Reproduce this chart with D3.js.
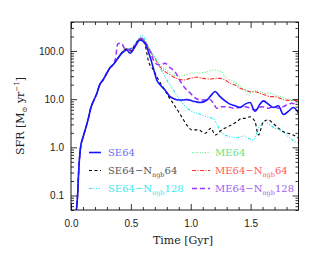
<!DOCTYPE html>
<html>
<head>
<meta charset="utf-8">
<script src="https://cdn.jsdelivr.net/npm/d3@7"></script>
<style>
body { margin: 0; background: #fff; }
svg { display: block; }
.axis path { display: none; }
.axis line { stroke: #000; stroke-width: 0.8; }
</style>
</head>
<body>
<script>
// shared early rise (all runs agree here)
const tRise = [0.04, 0.055, 0.065, 0.08, 0.10, 0.125, 0.145, 0.165, 0.195, 0.215, 0.24, 0.267, 0.30, 0.326, 0.355];
const sfrRise = [0.04, 0.1, 0.35, 1.0, 1.6, 2.6, 4.0, 6.5, 10, 13, 20, 25, 35, 45, 53];

const tSE64 = [0.382,0.424,0.465,0.493,0.535,0.576,0.618,0.66,0.688,0.716,0.744,0.785,0.827,0.86,0.894,0.936,0.97,1.011,1.045,1.078,1.136,1.17,1.203,1.245,1.287,1.328,1.37,1.412,1.454,1.495,1.537,1.579,1.607,1.648,1.69,1.732,1.774,1.815,1.857,1.899];
const sfrSE64 = [65,89,105,90,123,169,144,76,44,25,20,15.5,11.3,10.2,9.6,9.6,9.8,9.2,8.8,8.5,9.6,12,14.4,11.3,9.2,7.9,7.3,6.7,7.9,8.5,5.6,7.9,9.2,7.9,6.7,7.3,4.8,5.6,6.7,5.2];

const tSE64n64 = [0.382,0.424,0.465,0.50,0.535,0.58,0.60,0.625,0.648,0.69,0.732,0.774,0.815,0.857,0.898,0.94,0.968,1.01,1.065,1.12,1.17,1.203,1.259,1.314,1.384,1.426,1.454,1.495,1.537,1.565,1.607,1.648,1.69,1.732,1.774,1.815,1.857,1.899];
const sfrSE64n64 = [66,92,110,100,135,180,170,115,60,40,25,16.8,11.3,7.9,5.5,3.7,2.9,2.3,2.3,1.96,2.5,1.8,2.3,2.7,3.4,4.0,4.0,4.3,3.4,1.8,3.4,3.7,3.1,2.5,2.1,1.96,1.8,1.55];

const tSE64n128 = [0.382,0.424,0.465,0.50,0.535,0.593,0.62,0.66,0.702,0.744,0.80,0.855,0.911,0.967,1.022,1.078,1.134,1.189,1.217,1.245,1.287,1.328,1.384,1.439,1.481,1.523,1.551,1.579,1.621,1.663,1.704,1.746,1.788,1.83,1.871,1.899];
const sfrSE64n128 = [68,95,115,110,140,210,170,100,72,45,25,15.5,9.6,6.6,5.4,4.9,4.3,3.9,3.1,2.2,1.8,1.67,1.58,1.72,1.55,1.43,1.96,2.9,3.4,2.9,2.5,2.3,1.96,1.55,1.31,1.22];

const tME64 = [0.382,0.424,0.465,0.50,0.535,0.59,0.62,0.66,0.70,0.744,0.80,0.855,0.911,0.967,1.022,1.078,1.134,1.189,1.259,1.287,1.328,1.384,1.412,1.454,1.481,1.51,1.537,1.579,1.621,1.663,1.704,1.746,1.788,1.844,1.899];
const sfrME64 = [67,93,112,108,138,190,160,110,75,51,40,32,30,32,35,35,37,40,37,29,25,21,18,15.5,12,14.3,15,14.3,13.2,13.2,12.2,11.3,10.4,9.6,9.0];

const tME64n64 = [0.382,0.424,0.465,0.50,0.535,0.585,0.62,0.66,0.70,0.744,0.827,0.883,0.938,0.994,1.05,1.106,1.161,1.203,1.245,1.287,1.328,1.37,1.412,1.454,1.495,1.537,1.579,1.621,1.663,1.704,1.746,1.788,1.844,1.899];
const sfrME64n64 = [66,92,110,104,136,185,150,100,70,47,32,27,25,27,28.5,27,26,27,27,25,21.4,19.7,16.8,15.5,14.3,14.3,13.2,12.2,11.3,11.3,10.4,9.6,9.4,9.6];

const tME64n128 = [0.372,0.39,0.42,0.45,0.475,0.535,0.585,0.62,0.66,0.702,0.744,0.785,0.827,0.869,0.911,0.952,0.994,1.036,1.078,1.12,1.161,1.189,1.217,1.259,1.303,1.356,1.412,1.454,1.495,1.537,1.593,1.649,1.69,1.732,1.774,1.803,1.844,1.885];
const sfrME64n128 = [70,140,145,110,105,132,185,150,100,56,51,55.6,45,37,24,17,13.5,10.6,9.6,9.6,9.9,8.2,6.5,7.0,7.0,6.5,6.8,7.0,6.5,6.0,7.0,6.5,7.0,6.5,7.0,7.6,8.2,7.6];

const xMajor = [0.0, 0.5, 1.0, 1.5];
const xMinor = [0.1,0.2,0.3,0.4,0.6,0.7,0.8,0.9,1.1,1.2,1.3,1.4,1.6,1.7,1.8];
const yMajor = [0.1, 1, 10, 100];
const yMinor = [0.05,0.06,0.07,0.08,0.09,0.2,0.3,0.4,0.5,0.6,0.7,0.8,0.9,2,3,4,5,6,7,8,9,20,30,40,50,60,70,80,90,200,300,400];

const serif = "DejaVu Serif";
const width = 320, height = 256;
const svg = d3.select("body").append("svg").attr("width", width).attr("height", height);

const x = d3.scaleLinear().domain([0, 1.9]).range([71, 298.5]);
const y = d3.scaleLog().domain([0.05, 400]).range([210, 22]);

const series = [
  {name: "ME64", t: tME64, v: sfrME64, color: "#55f07a", dash: "1,1.6", w: 1.1, text: "#5ee882", col: 1, row: 0},
  {name: "ME64n64", t: tME64n64, v: sfrME64n64, color: "#ff2a2a", dash: "4,1.5,1,1.5", w: 1.1, text: "#ff5a5a", col: 1, row: 1},
  {name: "SE64n128", t: tSE64n128, v: sfrSE64n128, color: "#19e6ee", dash: "3,1.5,1,1.5,1,1.5,1,1.5", w: 1.1, text: "#3ae8f0", col: 0, row: 2},
  {name: "SE64n64", t: tSE64n64, v: sfrSE64n64, color: "#000", dash: "3,2.5", w: 1.1, text: "#555", col: 0, row: 1},
  {name: "ME64n128", t: tME64n128, v: sfrME64n128, color: "#9a33ff", dash: "5,3", w: 1.5, text: "#a060f0", col: 1, row: 2},
  {name: "SE64", t: tSE64, v: sfrSE64, color: "#1515ff", dash: null, w: 1.6, text: "#6a6af5", col: 0, row: 0}
];

// clip
svg.append("clipPath").attr("id", "plotclip").append("rect")
  .attr("x", 71).attr("y", 22).attr("width", 227.5).attr("height", 188);

const line = d3.line().curve(d3.curveMonotoneX)
  .x(d => x(d[0])).y(d => y(d[1]));

const g = svg.append("g").attr("clip-path", "url(#plotclip)");
series.forEach(function(s) {
  const pts = tRise.map((t, i) => [t, sfrRise[i]]).concat(s.t.map((t, i) => [t, s.v[i]]));
  g.append("path").attr("d", line(pts))
    .attr("fill", "none").attr("stroke", s.color).attr("stroke-width", s.w)
    .attr("stroke-dasharray", s.dash);
});

//-----------------------------AXES------------------------------//
const fmt = d3.format(".1f");
function axisG(tr) {
  return svg.append("g").attr("class", "axis").attr("transform", tr)
    .attr("font-family", serif).attr("font-size", 10.5);
}
axisG("translate(0,210)").call(d3.axisBottom(x).tickValues(xMajor).tickSize(-6).tickPadding(10).tickFormat(fmt));
axisG("translate(0,210)").call(d3.axisBottom(x).tickValues(xMinor).tickSize(-3).tickFormat(""));
axisG("translate(0,22)").call(d3.axisTop(x).tickValues(xMajor).tickSize(-6).tickFormat(""));
axisG("translate(0,22)").call(d3.axisTop(x).tickValues(xMinor).tickSize(-3).tickFormat(""));
axisG("translate(71,0)").call(d3.axisLeft(y).tickValues(yMajor).tickSize(-6).tickPadding(7).tickFormat(fmt));
axisG("translate(71,0)").call(d3.axisLeft(y).tickValues(yMinor).tickSize(-3).tickFormat(""));
axisG("translate(298.5,0)").call(d3.axisRight(y).tickValues(yMajor).tickSize(-6).tickFormat(""));
axisG("translate(298.5,0)").call(d3.axisRight(y).tickValues(yMinor).tickSize(-3).tickFormat(""));
svg.selectAll(".axis text").attr("fill", "#222");

svg.append("rect").attr("x", 71).attr("y", 22).attr("width", 227.5).attr("height", 188)
  .attr("fill", "none").attr("stroke", "#000").attr("stroke-width", 0.9);

// titles
svg.append("text").attr("font-family", serif).attr("x", 183).attr("y", 244).attr("fill", "#222")
  .attr("text-anchor", "middle").attr("font-size", 11).text("Time [Gyr]");

const yl = svg.append("text").attr("font-family", serif).attr("font-size", 11).attr("fill", "#222")
  .attr("text-anchor", "middle").attr("transform", "translate(24,116) rotate(-90)");
yl.append("tspan").text("SFR [M");
yl.append("tspan").attr("dy", 3).attr("font-size", 7).text("⊙");
yl.append("tspan").attr("dy", -3).text(" yr");
yl.append("tspan").attr("dy", -5).attr("font-size", 7).text("−1");
yl.append("tspan").attr("dy", 5).text("]");

//-----------------------------LEGEND------------------------------//
const legendLabels = {
  SE64: ["SE64", null, null], SE64n64: ["SE64−N", "ngb", "64"], SE64n128: ["SE64−N", "ngb", "128"],
  ME64: ["ME64", null, null], ME64n64: ["ME64−N", "ngb", "64"], ME64n128: ["ME64−N", "ngb", "128"]
};
const colX = [[89, 101, 108], [192, 210, 215]];
const rowY = [152.5, 170.5, 188.5];
series.forEach(function(s) {
  const cx = colX[s.col], ry = rowY[s.row];
  svg.append("line").attr("x1", cx[0]).attr("x2", cx[1]).attr("y1", ry).attr("y2", ry)
    .attr("stroke", s.color).attr("stroke-width", s.w).attr("stroke-dasharray", s.dash);
  const lb = legendLabels[s.name];
  const t = svg.append("text").attr("font-family", serif).attr("x", cx[2]).attr("y", ry + 3.8)
    .attr("font-size", 10).attr("fill", s.text);
  t.append("tspan").text(lb[0]);
  if (lb[1]) {
    t.append("tspan").attr("dy", 2.5).attr("font-size", 6.5).text(lb[1]);
    t.append("tspan").attr("dy", -2.5).text(lb[2]);
  }
});
</script>
</body>
</html>
